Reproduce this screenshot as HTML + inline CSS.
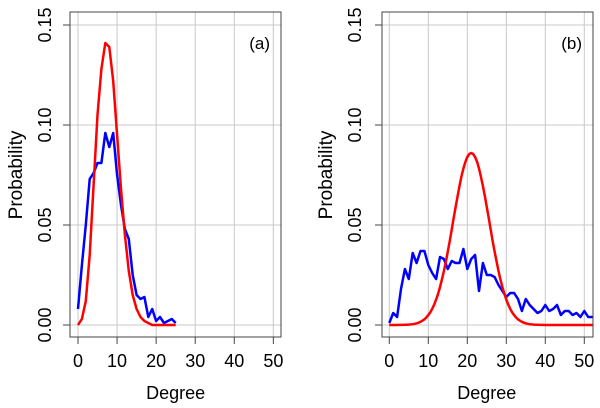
<!DOCTYPE html>
<html><head><meta charset="utf-8"><style>
html,body{margin:0;padding:0;background:#fff;}
svg{display:block;font-family:"Liberation Sans",sans-serif;}
</style></head><body>
<svg id="s" width="600" height="408" viewBox="0 0 600 408" xmlns="http://www.w3.org/2000/svg"></svg>
<script>
var s=document.getElementById('s');var out='';
function panel(bx0,bx1,x0,ppu,label,red,blue,ylabX,probX,clipId){
  var y0=325,py=2000;
  function X(v){return x0+v*ppu;} function Y(v){return y0-v*py;}
  out+='<defs><clipPath id="'+clipId+'"><rect x="'+bx0+'" y="12" width="'+(bx1-bx0)+'" height="325"/></clipPath></defs>';
  for(var t=0;t<=50;t+=10){out+='<line x1="'+X(t)+'" y1="12" x2="'+X(t)+'" y2="337" stroke="#c8c8c8" stroke-width="1"/>';}
  for(var i=0;i<=3;i++){var v=i*0.05;out+='<line x1="'+bx0+'" y1="'+Y(v)+'" x2="'+bx1+'" y2="'+Y(v)+'" stroke="#c8c8c8" stroke-width="1"/>';}
  function path(d,c){var p='';for(var k=0;k<d.length;k++){p+=(k?'L':'M')+X(d[k][0]).toFixed(1)+' '+Y(d[k][1]).toFixed(1);}
    out+='<path d="'+p+'" fill="none" stroke="'+c+'" stroke-width="2.5" stroke-linejoin="round" clip-path="url(#'+clipId+')"/>';}
  path(blue,'#0000ff');path(red,'#ff0000');
  out+='<rect x="'+bx0+'" y="12" width="'+(bx1-bx0)+'" height="325" fill="none" stroke="#444" stroke-width="1"/>';
  for(var t=0;t<=50;t+=10){out+='<line x1="'+X(t)+'" y1="337" x2="'+X(t)+'" y2="344" stroke="#444"/>';
    out+='<text x="'+X(t)+'" y="367" font-size="18" text-anchor="middle">'+t+'</text>';}
  var labs=['0.00','0.05','0.10','0.15'];
  for(var i=0;i<=3;i++){var yy=Y(i*0.05);out+='<line x1="'+bx0+'" y1="'+yy+'" x2="'+(bx0-7)+'" y2="'+yy+'" stroke="#444"/>';
    out+='<text transform="translate('+(ylabX)+','+yy+') rotate(-90)" font-size="18" text-anchor="middle">'+labs[i]+'</text>';}
  out+='<text x="'+((X(0)+X(50))/2)+'" y="399" font-size="18" text-anchor="middle">Degree</text>';
  out+='<text transform="translate('+probX+',175) rotate(-90)" font-size="19" text-anchor="middle">Probability</text>';
  out+='<text x="'+(bx1-11)+'" y="49" font-size="17" text-anchor="end">'+label+'</text>';
}
function mk(a){return a.map(function(v,i){return [i,v];});}
var redA=mk([0,.003,.012,.035,.07,.105,.128,.141,.139,.122,.095,.068,.045,.027,.015,.008,.004,.002,.001,0,0,0,0,0,0,0]);
var blueA=mk([.008,.03,.05,.073,.076,.081,.081,.096,.089,.096,.075,.06,.048,.043,.025,.015,.013,.014,.004,.008,.002,.004,.001,.002,.003,.001]);
var redB=[];for(var k=0;k<=55;k+=0.5){redB.push([k,0.086*Math.exp(-Math.pow(k-21,2)/(2*4.6*4.6))]);}
var blueB=mk([.001,.006,.004,.018,.028,.023,.036,.031,.037,.037,.03,.026,.023,.034,.033,.028,.032,.031,.031,.038,.028,.033,.035,.017,.031,.025,.025,.024,.02,.017,.014,.016,.016,.013,.007,.013,.01,.008,.006,.007,.01,.007,.008,.01,.005,.007,.007,.005,.006,.004,.007,.004,.004,.004]);
panel(70,281,78,3.907,'(a)',redA,blueA,51,22,'ca');
panel(382,593,389.3,3.9,'(b)',redB,blueB,361,332,'cb');
s.innerHTML=out;
</script>
</body></html>
